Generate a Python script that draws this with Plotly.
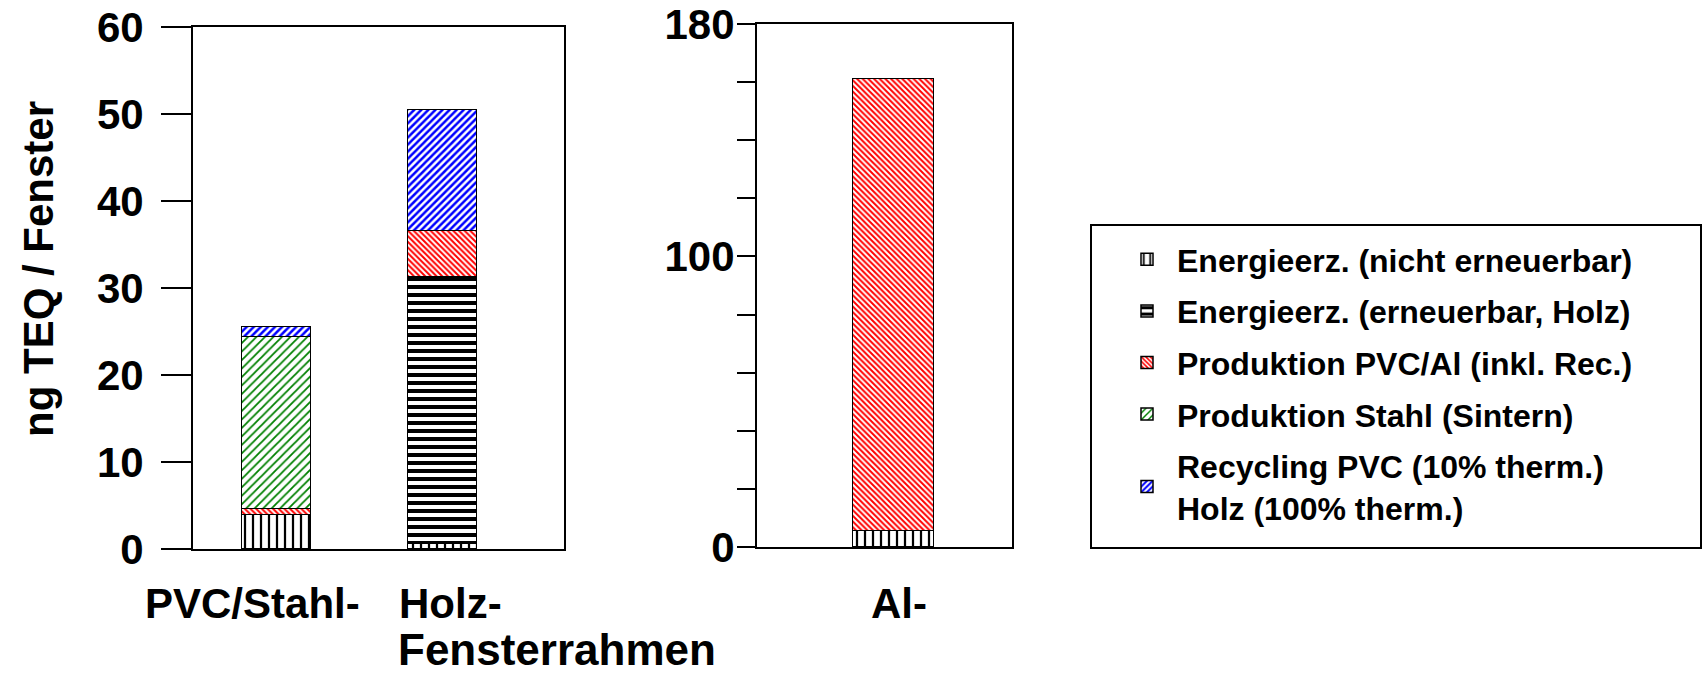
import plotly.graph_objects as go

# ---------------- data ----------------
cats_left = ["PVC/Stahl-", "Holz-"]
cats_right = ["Al-"]

names = [
    "Energieerz. (nicht erneuerbar)",
    "Energieerz. (erneuerbar, Holz)",
    "Produktion PVC/Al (inkl. Rec.)",
    "Produktion Stahl (Sintern)",
    "Recycling PVC (10% therm.)<br>Holz (100% therm.)",
]

energie_nicht_left = [3.9, 0.6]
energie_holz_left = [None, 30.7]
prod_pvc_al_left = [0.7, 5.2]
prod_stahl_left = [19.8, None]
recycling_left = [1.1, 14.0]

energie_nicht_right = [5.5]
prod_pvc_al_right = [155.5]

left_tickvals = [0, 10, 20, 30, 40, 50, 60]
right_tickvals = [0, 20, 40, 60, 80, 100, 120, 140, 160, 180]
right_ticktext = ["0", "", "", "", "", "100", "", "", "", "180"]

y_title = "ng TEQ / Fenster"
x_title = "Fensterrahmen"

# ---------------- styles ----------------
FONT = "Liberation Sans, Arial, Helvetica, sans-serif"
patterns = [
    dict(shape="|", fgcolor="black", bgcolor="white", size=8, solidity=0.28),
    dict(shape="-", fgcolor="black", bgcolor="white", size=8, solidity=0.5),
    dict(shape="\\", fgcolor="#ff0000", bgcolor="white", size=4, solidity=0.5),
    dict(shape="/", fgcolor="#008000", bgcolor="white", size=6, solidity=0.3),
    dict(shape="/", fgcolor="#0000ff", bgcolor="white", size=5, solidity=0.5),
]

left_series = [energie_nicht_left, energie_holz_left, prod_pvc_al_left,
               prod_stahl_left, recycling_left]
right_series = [energie_nicht_right, None, prod_pvc_al_right, None, None]

fig = go.Figure()
for i, name in enumerate(names):
    fig.add_trace(go.Bar(
        x=cats_left, y=left_series[i], name=name, legendgroup=f"g{i}",
        width=0.41, xaxis="x", yaxis="y",
        marker=dict(color="white", pattern=dict(fillmode="replace", **patterns[i]),
                    line=dict(color="black", width=1.5)),
    ))
for i, name in enumerate(names):
    if right_series[i] is None:
        continue
    fig.add_trace(go.Bar(
        x=cats_right, y=right_series[i], name=name, legendgroup=f"g{i}",
        showlegend=False, width=0.5, xaxis="x2", yaxis="y2",
        marker=dict(color="white", pattern=dict(fillmode="replace", **patterns[i]),
                    line=dict(color="black", width=1.5)),
    ))

W, H = 1702, 676
def px_x(p):
    return p / W
def px_y(p):
    return 1 - p / H

axis_common = dict(showline=True, linewidth=2, linecolor="black", mirror=True,
                   showgrid=False, zeroline=False, automargin=False)
TICK_FONT = dict(size=42, family=FONT, weight="bold", color="black")
LABEL_FONT = dict(size=42, family=FONT, weight="bold", color="black")

fig.update_layout(
    width=W, height=H,
    margin=dict(l=0, r=0, t=0, b=0, autoexpand=False),
    paper_bgcolor="white", plot_bgcolor="white",
    barmode="stack", bargap=0,
    font=dict(family=FONT, size=40, color="black", weight="bold"),
    showlegend=True,
    legend=dict(
        x=px_x(1117), y=px_y(232), xanchor="left", yanchor="top",
        bgcolor="rgba(0,0,0,0)", borderwidth=0, itemwidth=50,
        font=dict(family=FONT, size=32, color="black", weight="bold"),
        traceorder="grouped", tracegroupgap=7,
    ),
    xaxis=dict(domain=[px_x(193), px_x(564)], anchor="y", type="category",
               range=[-0.503, 1.732], showticklabels=False, ticks="",
               **axis_common),
    yaxis=dict(domain=[px_y(549), px_y(27)], anchor="x", range=[0, 60],
               tickvals=left_tickvals, ticks="outside", ticklen=30, tickwidth=2,
               tickcolor="black", ticklabelstandoff=9, tickfont=TICK_FONT,
               ticklabeloverflow="allow", **axis_common),
    yaxis3=dict(overlaying="y", anchor="x", side="left", range=[0, 60],
                tickvals=left_tickvals, ticks="inside", ticklen=30, tickwidth=2,
                tickcolor="black", showticklabels=False, showline=False,
                showgrid=False, zeroline=False, automargin=False),
    xaxis2=dict(domain=[px_x(757), px_x(1012)], anchor="y2", type="category",
                range=[-0.843, 0.731], showticklabels=False, ticks="",
                **axis_common),
    yaxis2=dict(domain=[px_y(547), px_y(24)], anchor="x2", range=[0, 180],
                tickvals=right_tickvals, ticktext=right_ticktext,
                ticks="outside", ticklen=18, tickwidth=2, tickcolor="black",
                ticklabelstandoff=-6, tickfont=TICK_FONT,
                ticklabeloverflow="allow", **axis_common),
    yaxis4=dict(overlaying="y2", anchor="x2", side="left", range=[0, 180],
                tickvals=right_tickvals, ticks="inside", ticklen=16, tickwidth=2,
                tickcolor="black", showticklabels=False, showline=False,
                showgrid=False, zeroline=False, automargin=False),
)

# legend frame (extends to the right edge as in the original)
fig.add_shape(type="rect", xref="paper", yref="paper",
              x0=px_x(1091), x1=px_x(1701), y0=px_y(548), y1=px_y(225),
              line=dict(color="black", width=2), fillcolor="rgba(0,0,0,0)",
              layer="below")

# category labels
shifts = {"PVC/Stahl-": -24, "Holz-": 8, "Al-": 5}
for c in cats_left:
    fig.add_annotation(x=c, xref="x", y=px_y(603), yref="paper", text=c,
                       showarrow=False, xshift=shifts[c], yanchor="middle",
                       font=LABEL_FONT)
for c in cats_right:
    fig.add_annotation(x=c, xref="x2", y=px_y(603), yref="paper", text=c,
                       showarrow=False, xshift=shifts[c], yanchor="middle",
                       font=LABEL_FONT)

fig.add_annotation(x=px_x(557), y=0, xref="paper", yref="paper", text=x_title,
                   showarrow=False, xanchor="center", yanchor="bottom", yshift=0,
                   font=dict(size=44, family=FONT, weight="bold", color="black"))
fig.add_annotation(x=px_x(38), y=px_y(269), xref="paper", yref="paper", text=y_title,
                   showarrow=False, textangle=-90, xanchor="center", yanchor="middle",
                   font=LABEL_FONT)

# the page's default 8px body margin would shift the figure; remove it
fig.write_html("out.html", config={"displayModeBar": False},
               post_script="document.body.style.margin='0px';")
